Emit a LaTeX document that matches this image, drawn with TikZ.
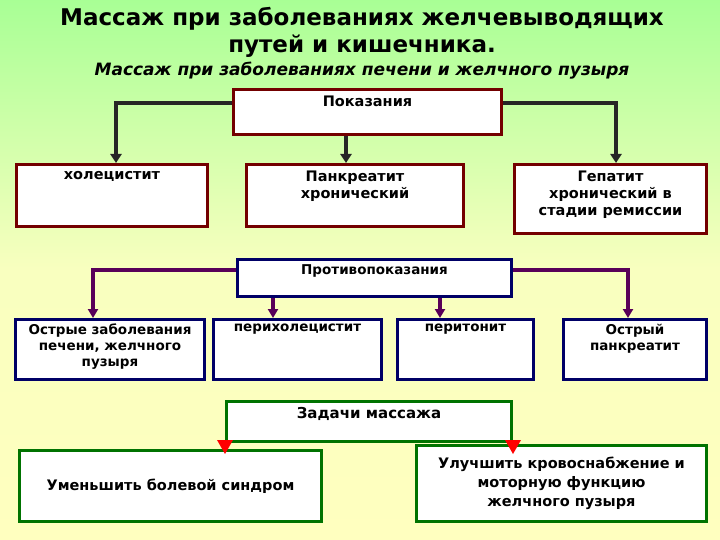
\documentclass[tikz,border=0pt]{standalone}
\usepackage{fontspec}
\setmainfont{DejaVu Sans}
\usetikzlibrary{arrows.meta,calc}
\begin{document}
\begin{tikzpicture}[x=1pt,y=-1pt,
 box/.style={line width=3pt,fill=white,anchor=north west,inner sep=0pt},
 lbl/.style={font=\bfseries\fontsize{14.5}{17}\selectfont,align=center,anchor=north,inner sep=0pt},
 sl/.style={font=\bfseries\fontsize{13.5}{16}\selectfont},
 ra/.style={line width=4pt,draw=black!85,-{Triangle[length=9pt,width=11pt]}},
 pa/.style={line width=3.5pt,draw=violet!70!black,-{Triangle[length=9pt,width=10pt]}}]
\shade[top color=green!35!white!90!lime,bottom color=yellow!25,middle color=green!10!yellow!25] (0,0) rectangle (720,540);
\useasboundingbox (0,0) rectangle (720,540);
\node[font=\bfseries\fontsize{23}{27}\selectfont,align=center] (t) at (362,32) {Массаж при заболеваниях желчевыводящих\\путей и кишечника.};
\node[font=\bfseries\itshape\fontsize{17}{20}\selectfont] (st) at (362,71) {Массаж при заболеваниях печени и желчного пузыря};
% Indications
\node[box,draw=red!45!black,minimum width=268,minimum height=45] (pok) at (232,88) {};
\node[lbl] (pokt) at ($(pok.north)+(0,8)$) {Показания};
\node[box,draw=red!45!black,minimum width=191,minimum height=62] (hol) at (15,163) {};
\node[lbl] (holt) at ($(hol.north)+(0,8)$) {холецистит};
\node[box,draw=red!45!black,minimum width=217,minimum height=62] (pan) at (245,163) {};
\node[lbl] (pant) at ($(pan.north)+(0,8)$) {Панкреатит\\хронический};
\node[box,draw=red!45!black,minimum width=192,minimum height=69] (gep) at (513,163) {};
\node[lbl] (gept) at ($(gep.north)+(0,8)$) {Гепатит\\хронический в\\стадии ремиссии};
\draw[ra] (pok.west |- 0,103) -| (hol.north -| 116,0);
\draw[ra] (pok.south -| 346,0) -- (pan.north -| 346,0);
\draw[ra] (pok.east |- 0,103) -| (gep.north -| 616,0);
% Contraindications
\node[box,draw=blue!40!black,minimum width=274,minimum height=37] (pro) at (236,258) {};
\node[lbl,sl] (prot) at ($(pro.north)+(0,6)$) {Противопоказания};
\node[box,draw=blue!40!black,minimum width=189,minimum height=60] (ost) at (14,318) {};
\node[lbl,sl] (ostt) at ($(ost.north)+(0,6)$) {Острые заболевания\\печени, желчного\\пузыря};
\node[box,draw=blue!40!black,minimum width=168,minimum height=60] (per) at (212,318) {};
\node[lbl,sl] (pert) at ($(per.north)+(0,6)$) {перихолецистит};
\node[box,draw=blue!40!black,minimum width=136,minimum height=60] (prt) at (396,318) {};
\node[lbl,sl] (prtt) at ($(prt.north)+(0,6)$) {перитонит};
\node[box,draw=blue!40!black,minimum width=143,minimum height=60] (opa) at (562,318) {};
\node[lbl,sl] (opat) at ($(opa.north)+(0,6)$) {Острый\\панкреатит};
\draw[pa] (pro.west |- 0,270) -| (ost.north -| 93,0);
\draw[pa] (pro.south -| 273,0) -- (per.north -| 273,0);
\draw[pa] (pro.south -| 440,0) -- (prt.north -| 440,0);
\draw[pa] (pro.east |- 0,270) -| (opa.north -| 628,0);
% Tasks
\node[box,draw=green!45!black,minimum width=285,minimum height=40] (zad) at (225,400) {};
\node[lbl,font=\bfseries\fontsize{15}{17}\selectfont] (zadt) at ($(zad.north)+(0,7)$) {Задачи массажа};
\node[box,draw=green!45!black,minimum width=302,minimum height=71] (umn) at (18,449) {};
\node[lbl,anchor=center] (umnt) at (umn.center) {Уменьшить болевой синдром};
\node[box,draw=green!45!black,minimum width=290,minimum height=76] (ulu) at (415,444) {};
\node[lbl,font=\bfseries\fontsize{14.5}{19}\selectfont,anchor=center] (ulut) at (ulu.center) {Улучшить кровоснабжение и\\моторную функцию\\желчного пузыря};
\coordinate (z1) at (zad.south west);
\coordinate (z2) at (zad.south east);
\fill[red] ($(z1)+(-8,-3)$) -- ($(z1)+(8,-3)$) -- ($(z1)+(0,11)$) -- cycle;
\fill[red] ($(z2)+(-8,-3)$) -- ($(z2)+(8,-3)$) -- ($(z2)+(0,11)$) -- cycle;
\end{tikzpicture}
\end{document}
